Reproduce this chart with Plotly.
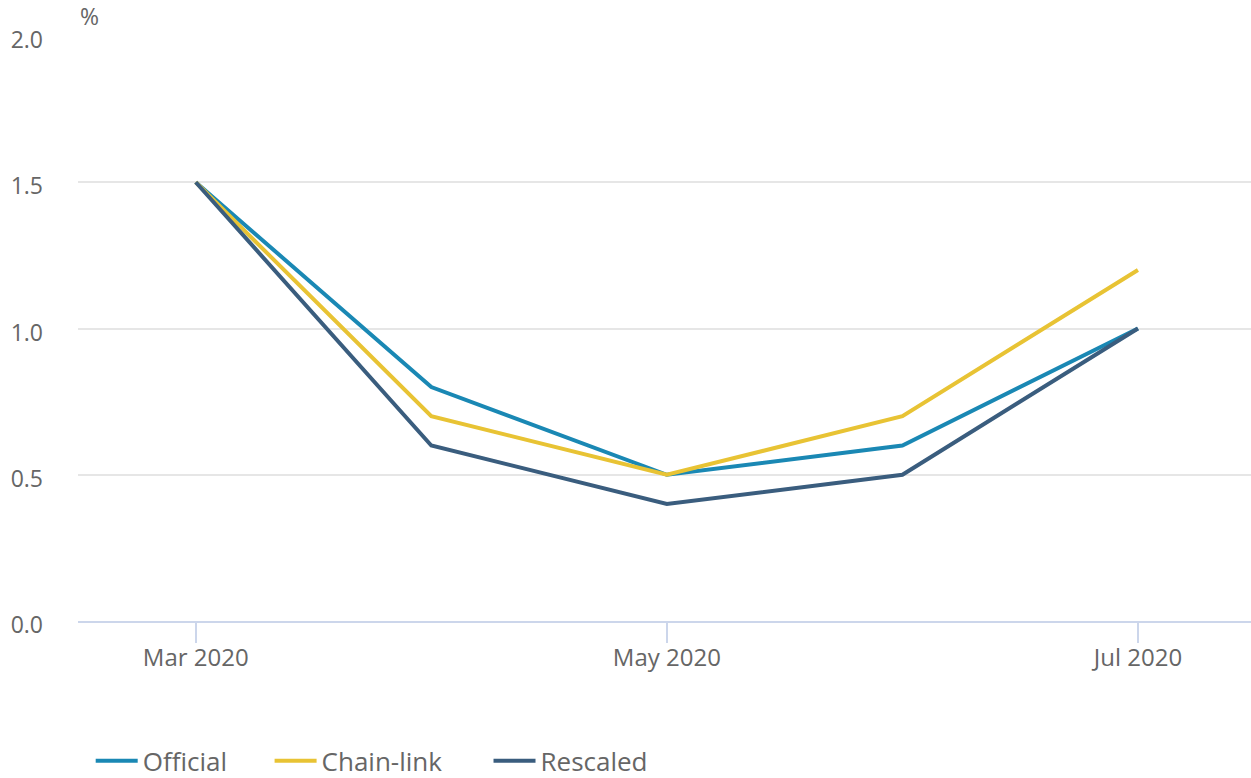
import plotly.graph_objects as go

months = ["Mar 2020", "Apr 2020", "May 2020", "Jun 2020", "Jul 2020"]
official = [1.5, 0.8, 0.5, 0.6, 1.0]
chain_link = [1.5, 0.7, 0.5, 0.7, 1.2]
rescaled = [1.5, 0.6, 0.4, 0.5, 1.0]
y_ticks = [0.0, 0.5, 1.0, 1.5, 2.0]
x_ticks = ["Mar 2020", "May 2020", "Jul 2020"]

series = [
    ("Official", official, "#1a88b4", "legend", 0.0725),
    ("Chain-link", chain_link, "#e8c334", "legend2", 0.2155),
    ("Rescaled", rescaled, "#3a5d7e", "legend3", 0.3905),
]

fig = go.Figure()
for name, vals, color, lg, _ in series:
    fig.add_trace(go.Scatter(x=months, y=vals, name=name, mode="lines", legend=lg,
                             line=dict(color=color, width=4)))

font = "Open Sans"
legend_layout = {}
for name, vals, color, lg, lx in series:
    legend_layout[lg] = dict(orientation="h", xref="container", yref="container",
                             x=lx, y=0.022, xanchor="left", yanchor="middle",
                             font=dict(size=26, color="#666666", family=font),
                             itemwidth=42, bgcolor="rgba(0,0,0,0)")

fig.update_layout(
    width=1251, height=778,
    margin=dict(l=78, r=0, t=36, b=157),
    paper_bgcolor="white", plot_bgcolor="white",
    font=dict(family=font, color="#666666", size=23),
    showlegend=True,
    xaxis=dict(type="category", categoryorder="array", categoryarray=months,
               range=[-0.5, 4.48], tickmode="array", tickvals=x_ticks, ticktext=x_ticks,
               showgrid=False, showline=True, linecolor="#ccd6eb", linewidth=2,
               ticks="outside", ticklen=20, tickcolor="#ccd6eb", tickwidth=2,
               ticklabelstandoff=-6,
               tickfont=dict(size=24, color="#666666"), zeroline=False),
    yaxis=dict(range=[0, 2], tickmode="array", tickvals=y_ticks, tickformat=".1f",
               showgrid=True, gridcolor="#e6e6e6", gridwidth=2, zeroline=False,
               showline=False, ticks="", ticklabelstandoff=34, ticklabelshift=4,
               tickfont=dict(size=23, color="#666666")),
    annotations=[dict(text="%", xref="paper", yref="paper", x=0, y=1,
                      xanchor="left", yanchor="bottom", showarrow=False, xshift=0, yshift=2,
                      font=dict(size=23, color="#666666"))],
    **legend_layout,
)

fig.write_html("out.html")
